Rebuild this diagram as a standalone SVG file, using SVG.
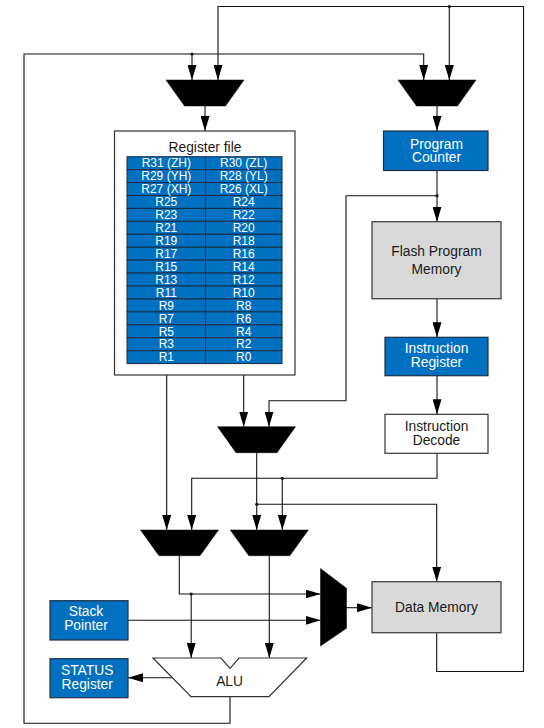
<svg xmlns="http://www.w3.org/2000/svg" width="544" height="728" viewBox="0 0 544 728">
<style>
  .wire{fill:none;stroke:#111;stroke-width:1.1}
  .arr{marker-end:url(#ah)}
  .mux{fill:#000;stroke:#000;stroke-width:0.5}
  .blue{fill:#0070C0;stroke:#1f2f45;stroke-width:1.2}
  .gray{fill:#D9D9D9;stroke:#444;stroke-width:1.3}
  .white{fill:#fff;stroke:#333;stroke-width:1.2}
  .cell{fill:#0070C0;stroke:#1a2c44;stroke-width:1}
  text{font-family:"Liberation Sans",Arial,sans-serif;text-anchor:middle}
  .lbl{font-size:13.8px;fill:#1a1a1a}
  .wlbl{font-size:13.8px;fill:#fff}
  .ct{font-size:12px;fill:#fff}
  .dot{fill:#111}
</style>
<defs>
  <marker id="ah" viewBox="0 0 15 9" refX="15" refY="4.5" markerWidth="15" markerHeight="9" orient="auto" markerUnits="userSpaceOnUse">
    <path d="M0,0 L15,4.5 L0,9 Z" fill="#000"/>
  </marker>
</defs>
<rect width="544" height="728" fill="#fff"/>

<g id="connectors">
  <polyline class="wire arr" points="436.7,632.7 436.7,671.5 523.5,671.5 523.5,6.5 218,6.5 218,80"/>
  <polyline class="wire arr" points="449.3,6.5 449.3,80"/>
  <circle class="dot" cx="449.3" cy="6.5" r="1.6"/>
  <polyline class="wire arr" points="230,696.7 230,723.3 24,723.3 24,54 423.7,54 423.7,80"/>
  <polyline class="wire arr" points="192,54 192,80"/>
  <circle class="dot" cx="192" cy="54" r="1.6"/>
  <line class="wire arr" x1="205" y1="106" x2="205" y2="131"/>
  <line class="wire arr" x1="437" y1="106" x2="437" y2="131"/>
  <line class="wire arr" x1="437" y1="170.5" x2="437" y2="221.7"/>
  <polyline class="wire arr" points="437,195.7 346,195.7 346,400.7 269,400.7 269,426.7"/>
  <circle class="dot" cx="437" cy="195.7" r="1.6"/>
  <line class="wire arr" x1="437" y1="298.7" x2="437" y2="337.3"/>
  <line class="wire arr" x1="437" y1="375.7" x2="437" y2="414.3"/>
  <polyline class="wire arr" points="437,453.3 437,478.3 191.7,478.3 191.7,530"/>
  <polyline class="wire arr" points="282.3,478.3 282.3,530"/>
  <circle class="dot" cx="282.3" cy="478.3" r="1.6"/>
  <line class="wire arr" x1="166.7" y1="375" x2="166.7" y2="530"/>
  <line class="wire arr" x1="243.7" y1="375" x2="243.7" y2="426.7"/>
  <line class="wire arr" x1="256.7" y1="452.7" x2="256.7" y2="530"/>
  <polyline class="wire arr" points="256.7,504.3 436.7,504.3 436.7,581.7"/>
  <circle class="dot" cx="256.7" cy="504.3" r="1.6"/>
  <polyline class="wire arr" points="179.3,555.7 179.3,594 320.5,594"/>
  <polyline class="wire arr" points="191.2,594 191.2,658"/>
  <circle class="dot" cx="191.2" cy="594" r="1.6"/>
  <line class="wire arr" x1="269.3" y1="555.7" x2="269.3" y2="658"/>
  <line class="wire arr" x1="128" y1="620.3" x2="320.5" y2="620.3"/>
  <line class="wire arr" x1="346.5" y1="607.7" x2="372" y2="607.7"/>
  <line class="wire arr" x1="172.3" y1="677.7" x2="128" y2="677.7"/>
</g>

<g id="mux1"><polygon class="mux" points="166,80 244,80 225.5,106 184.5,106"/></g>
<g id="mux2"><polygon class="mux" points="398,80 476,80 457.5,106 416.5,106"/></g>
<g id="mux3"><polygon class="mux" points="217.5,426.7 295.5,426.7 277,452.7 236,452.7"/></g>
<g id="mux4"><polygon class="mux" points="140.5,530 218.5,530 200,555.7 159,555.7"/></g>
<g id="mux5"><polygon class="mux" points="230.3,530 308.3,530 289.8,555.7 248.8,555.7"/></g>
<g id="mux6"><polygon class="mux" points="320.5,568.5 346.5,588.3 346.5,628.3 320.5,646"/></g>

<g id="register-file">
  <rect class="white" x="114.5" y="131" width="180.5" height="244"/>
  <text class="lbl" x="205" y="152">Register file</text>
  <g id="regs">
    <rect class="cell" x="127" y="156.7" width="78.5" height="12.93"/><rect class="cell" x="205.5" y="156.7" width="76.5" height="12.93"/>
    <rect class="cell" x="127" y="169.63" width="78.5" height="12.93"/><rect class="cell" x="205.5" y="169.63" width="76.5" height="12.93"/>
    <rect class="cell" x="127" y="182.56" width="78.5" height="12.93"/><rect class="cell" x="205.5" y="182.56" width="76.5" height="12.93"/>
    <rect class="cell" x="127" y="195.49" width="78.5" height="12.93"/><rect class="cell" x="205.5" y="195.49" width="76.5" height="12.93"/>
    <rect class="cell" x="127" y="208.42" width="78.5" height="12.93"/><rect class="cell" x="205.5" y="208.42" width="76.5" height="12.93"/>
    <rect class="cell" x="127" y="221.35" width="78.5" height="12.93"/><rect class="cell" x="205.5" y="221.35" width="76.5" height="12.93"/>
    <rect class="cell" x="127" y="234.28" width="78.5" height="12.93"/><rect class="cell" x="205.5" y="234.28" width="76.5" height="12.93"/>
    <rect class="cell" x="127" y="247.21" width="78.5" height="12.93"/><rect class="cell" x="205.5" y="247.21" width="76.5" height="12.93"/>
    <rect class="cell" x="127" y="260.14" width="78.5" height="12.93"/><rect class="cell" x="205.5" y="260.14" width="76.5" height="12.93"/>
    <rect class="cell" x="127" y="273.07" width="78.5" height="12.93"/><rect class="cell" x="205.5" y="273.07" width="76.5" height="12.93"/>
    <rect class="cell" x="127" y="286.0" width="78.5" height="12.93"/><rect class="cell" x="205.5" y="286.0" width="76.5" height="12.93"/>
    <rect class="cell" x="127" y="298.93" width="78.5" height="12.93"/><rect class="cell" x="205.5" y="298.93" width="76.5" height="12.93"/>
    <rect class="cell" x="127" y="311.86" width="78.5" height="12.93"/><rect class="cell" x="205.5" y="311.86" width="76.5" height="12.93"/>
    <rect class="cell" x="127" y="324.79" width="78.5" height="12.93"/><rect class="cell" x="205.5" y="324.79" width="76.5" height="12.93"/>
    <rect class="cell" x="127" y="337.72" width="78.5" height="12.93"/><rect class="cell" x="205.5" y="337.72" width="76.5" height="12.93"/>
    <rect class="cell" x="127" y="350.65" width="78.5" height="12.93"/><rect class="cell" x="205.5" y="350.65" width="76.5" height="12.93"/>
  </g>
  <g id="reg-labels">
    <text class="ct" x="166.3" y="167.4">R31 (ZH)</text><text class="ct" x="243.7" y="167.4">R30 (ZL)</text>
    <text class="ct" x="166.3" y="180.3">R29 (YH)</text><text class="ct" x="243.7" y="180.3">R28 (YL)</text>
    <text class="ct" x="166.3" y="193.2">R27 (XH)</text><text class="ct" x="243.7" y="193.2">R26 (XL)</text>
    <text class="ct" x="166.3" y="206.2">R25</text><text class="ct" x="243.7" y="206.2">R24</text>
    <text class="ct" x="166.3" y="219.1">R23</text><text class="ct" x="243.7" y="219.1">R22</text>
    <text class="ct" x="166.3" y="232.0">R21</text><text class="ct" x="243.7" y="232.0">R20</text>
    <text class="ct" x="166.3" y="245.0">R19</text><text class="ct" x="243.7" y="245.0">R18</text>
    <text class="ct" x="166.3" y="257.9">R17</text><text class="ct" x="243.7" y="257.9">R16</text>
    <text class="ct" x="166.3" y="270.8">R15</text><text class="ct" x="243.7" y="270.8">R14</text>
    <text class="ct" x="166.3" y="283.8">R13</text><text class="ct" x="243.7" y="283.8">R12</text>
    <text class="ct" x="166.3" y="296.7">R11</text><text class="ct" x="243.7" y="296.7">R10</text>
    <text class="ct" x="166.3" y="309.6">R9</text><text class="ct" x="243.7" y="309.6">R8</text>
    <text class="ct" x="166.3" y="322.6">R7</text><text class="ct" x="243.7" y="322.6">R6</text>
    <text class="ct" x="166.3" y="335.5">R5</text><text class="ct" x="243.7" y="335.5">R4</text>
    <text class="ct" x="166.3" y="348.4">R3</text><text class="ct" x="243.7" y="348.4">R2</text>
    <text class="ct" x="166.3" y="361.4">R1</text><text class="ct" x="243.7" y="361.4">R0</text>
  </g>
</g>

<g id="program-counter">
  <rect class="blue" x="383.5" y="131" width="104.5" height="39.5"/>
  <text class="wlbl" x="436.5" y="148.5">Program</text>
  <text class="wlbl" x="436.5" y="162.2">Counter</text>
</g>

<g id="flash-program-memory">
  <rect class="gray" x="372" y="221.7" width="129" height="77"/>
  <text class="lbl" x="436.5" y="256.2">Flash Program</text>
  <text class="lbl" x="436.5" y="274">Memory</text>
</g>

<g id="instruction-register">
  <rect class="blue" x="385" y="337.3" width="103" height="38.4"/>
  <text class="wlbl" x="436.5" y="353.2">Instruction</text>
  <text class="wlbl" x="436.5" y="367.2">Register</text>
</g>

<g id="instruction-decode">
  <rect class="white" x="385" y="414.3" width="103" height="39"/>
  <text class="lbl" x="436.5" y="430.9">Instruction</text>
  <text class="lbl" x="436.5" y="444.9">Decode</text>
</g>

<g id="data-memory">
  <rect class="gray" x="372" y="581.7" width="129" height="51"/>
  <text class="lbl" x="436.5" y="612.4">Data Memory</text>
</g>

<g id="stack-pointer">
  <rect class="blue" x="50" y="600.7" width="78" height="39.3"/>
  <text class="wlbl" x="86" y="616">Stack</text>
  <text class="wlbl" x="86" y="630.2">Pointer</text>
</g>

<g id="status-register">
  <rect class="blue" x="50" y="658.7" width="78" height="39"/>
  <text class="wlbl" x="87.2" y="674.8">STATUS</text>
  <text class="wlbl" x="87.2" y="688.8">Register</text>
</g>

<g id="alu">
  <polygon points="153,658 221,658 230,668.3 239,658 306.6,658 269,696.7 191,696.7" fill="#fff" stroke="#333" stroke-width="1.2"/>
  <text class="lbl" x="229.6" y="686">ALU</text>
</g>
</svg>
